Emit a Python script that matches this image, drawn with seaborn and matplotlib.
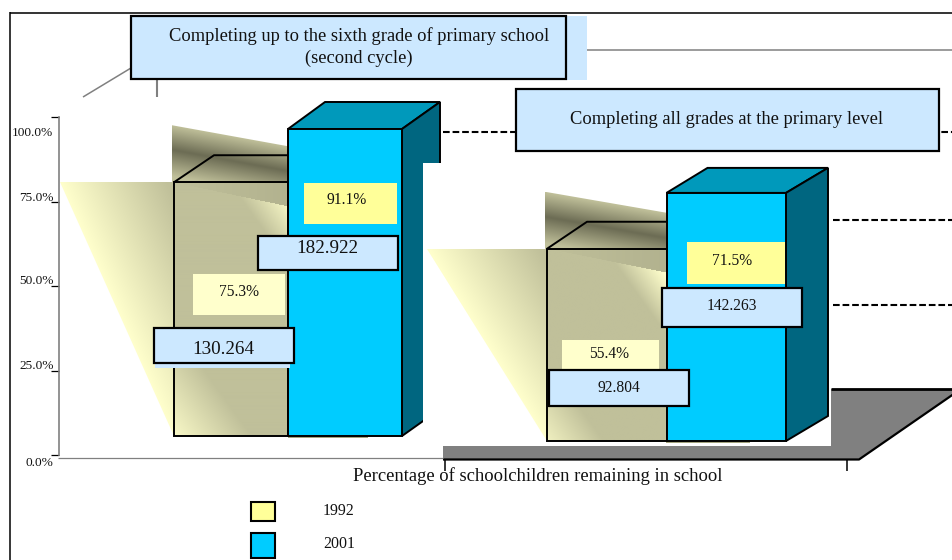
import numpy as np
import pandas as pd
import matplotlib
matplotlib.use("Agg")
import matplotlib.pyplot as plt
from matplotlib.patches import Polygon, Rectangle
from matplotlib.transforms import ScaledTranslation
import seaborn as sns

# ---- data ----
years = ["1992", "2001"]
cycle_pct = [75.3, 91.1]
primary_pct = [55.4, 71.5]
cycle_students = ["130.264", "182.922"]
primary_students = ["92.804", "142.263"]
axis_ticks = [0, 25, 50, 75, 100]
axis_labels = ["0.0%", "25.0%", "50.0%", "75.0%", "100.0%"]
title_cycle = "Completing up to the sixth grade of primary school\n(second cycle)"
title_primary = "Completing all grades at the primary level"
x_title = "Percentage of schoolchildren remaining in school"

# ---- style ----
sns.set_theme(style="white")
plt.rcParams["font.family"] = ["Liberation Serif", "DejaVu Serif"]
W, H = 953, 560
BOX = "#cce8ff"
Y_STRONG = "#ffff99"
Y_PALE = "#ffffcc"
BLUE = "#00ccff"
BLUE_TOP = "#0099bb"
BLUE_SIDE = "#006680"
KHAKI = np.array([0xc0, 0xc0, 0x9a]) / 255
CREAM = np.array([0xff, 0xff, 0xcc]) / 255
DARK = np.array([0x6c, 0x6c, 0x54]) / 255
EDGE_LW = 1.4

fig = plt.figure(figsize=(W / 100, H / 100), dpi=100, facecolor="white")


def px_axes(x0, y0, x1, y1, z):
    ax = fig.add_axes([x0 / W, 1 - y1 / H, (x1 - x0) / W, (y1 - y0) / H], zorder=z)
    ax.patch.set_alpha(0)
    return ax


bg = px_axes(0, 0, W, H, 0)
bg.set_xlim(0, W)
bg.set_ylim(H, 0)
bg.axis("off")
top = px_axes(0, 0, W, H, 5)
top.set_xlim(0, W)
top.set_ylim(H, 0)
top.axis("off")


def line(ax, xs, ys, color="black", lw=1.1, **kw):
    ax.plot(xs, ys, color=color, lw=lw, solid_capstyle="butt", **kw)


def grad_poly(ax, pts, fn, z):
    pts = np.array(pts, float)
    x0, y0 = pts.min(0)
    x1, y1 = pts.max(0)
    xs = np.arange(x0, x1 + 1)
    ys = np.arange(y0, y1 + 1)
    X, Y = np.meshgrid(xs, ys)
    rgb = fn(X, Y)
    im = ax.imshow(rgb, extent=(x0, x1, y1, y0), aspect="auto", origin="upper",
                   zorder=z, interpolation="bilinear")
    im.set_clip_path(Polygon(pts, closed=True, transform=ax.transData))
    ax.set_xlim(0, W)
    ax.set_ylim(H, 0)


def mix(a, b, t):
    return a + (b - a) * np.clip(t, 0, 1)[..., None]


# ---- back-wall remains, frame, floor ----
line(bg, [10, 953], [12.5, 12.5], color="#333333", lw=1.4)
line(bg, [10.5, 10.5], [12, 560], color="black", lw=1.1)
line(bg, [587, 953], [49.5, 49.5], color="#808080", lw=1.1)
line(bg, [131, 83], [68, 97], color="#808080", lw=1.1)
line(bg, [157.5, 157.5], [79, 97], color="#808080", lw=1.5)
bg.add_patch(Polygon([(443, 389), (953, 389), (953, 394), (859, 459), (443, 459)], fc="#808080", ec="none", zorder=1))
line(bg, [831, 953], [389, 389], lw=2, zorder=1.5)
line(bg, [953, 859, 443], [394.5, 459.5, 459.5], lw=1.6, zorder=1.5)
line(bg, [58, 443], [458, 458], color="#808080", lw=0.9)
for tx in (445, 847):
    line(bg, [tx, tx], [460, 471], lw=1.1)
for dy in (132, 220, 305):
    x_from = 443 if dy == 132 else 833
    bg.plot([x_from, 953], [dy, dy], color="black", lw=1.5, ls=(0, (3.2, 1.4)), zorder=0.5)


def group(x0, x1, base, scale, values):
    """Draw one pair of bars; heights come from the values through the axes scale."""
    ax = px_axes(x0, base - scale * 100, x1, base, 3)
    frame = pd.DataFrame({"year": years, "pct": values})
    sns.barplot(data=frame, x="year", y="pct", hue="year", palette=[Y_STRONG, BLUE], dodge=False,
                width=1.0, legend=False, ax=ax, edgecolor="black", linewidth=EDGE_LW, saturation=1)
    ax.set_xlim(-0.5, 1.5)
    ax.set_ylim(0, 100)
    ax.axis("off")
    for p in ax.patches:
        p.set_clip_on(False)
    return ax


def decorate(ax, x0, x1, base, scale, values, z_back):
    mid = (x0 + x1) / 2
    y_old = base - scale * values[0]
    h = base - y_old
    # yellow cast on the left
    span = mid - x0
    tri_left = x0 - span

    def tri_fn(X, Y):
        xh = tri_left + (Y - y_old) / h * span
        t = (X - xh) / span
        return mix(CREAM, KHAKI, t * 1.05)

    grad_poly(bg, [(tri_left, y_old), (x0, y_old), (x0, base)], tri_fn, z_back)

    # band behind the top
    slope = 21 / (mid - x0)

    def band_fn(X, Y):
        u = Y - (y_old - 57) - slope * (X - x0)
        rgb = np.where((u < 25)[..., None], mix(KHAKI, DARK, u / 25), mix(DARK, KHAKI, (u - 25) / 27))
        return rgb

    grad_poly(bg, [(x0 - 2, y_old - 57), (mid, y_old - 36), (mid, y_old + 24), (x0 - 2, y_old)], band_fn, z_back)
    # top face outline of the 1992 bar
    line(bg, [x0, x0 + 40, mid], [y_old, y_old - 27, y_old - 27], lw=EDGE_LW, zorder=z_back + 0.1)
    # shadow under the 2001 bar
    bg.add_patch(Rectangle((mid, base - 1), (x1 - mid) * 0.7, 3, fc="#a3a37f", ec="none", zorder=z_back))

    # front face of the 1992 bar: gradient clipped to the library's bar
    bar = ax.patches[0]
    bx, bw, bh = bar.get_x(), bar.get_width(), bar.get_height()
    xs = np.arange(x0, mid + 1)
    ys = np.arange(y_old, base + 1)
    X, Y = np.meshgrid(xs, ys)
    f = (253 / h) ** 0.5
    d = ((X - x0 - 6) * 125 - (Y - (base - h * 0.557)) * 90) / 154 * f
    t = np.interp(d, [-95, -25, 105, 145], [0, 1, 1, 0])
    rgb = mix(CREAM, KHAKI, t)
    band_low = Y - (y_old + slope * 1.14 * (X - x0))
    dark_zone = np.clip((X - x0) / (mid - x0), 0, 1)
    edge = mix(KHAKI, KHAKI * 0.88, dark_zone * 0.6)
    rgb = np.where((band_low < 0)[..., None], edge, rgb)
    im = ax.imshow(rgb, extent=(bx, bx + bw, 0, bh), aspect="auto", origin="upper", zorder=1)
    im.set_clip_path(bar)
    bar.set_facecolor("none")
    bar.set_zorder(2)
    ax.patches[1].set_zorder(3)
    ax.set_xlim(-0.5, 1.5)
    ax.set_ylim(0, 100)


def blue_faces(x0, x1, base, scale, value, depth, z):
    mid = (x0 + x1) / 2
    y_new = base - scale * value
    dx, dy = depth
    bg.add_patch(Polygon([(mid, y_new), (mid + dx - 1, y_new - dy), (x1 + dx, y_new - dy), (x1, y_new)],
                         fc=BLUE_TOP, ec="black", lw=EDGE_LW, zorder=z))
    bg.add_patch(Polygon([(x1, y_new), (x1 + dx, y_new - dy), (x1 + dx, base - dy), (x1, base)],
                         fc=BLUE_SIDE, ec="black", lw=EDGE_LW, zorder=z))


# left group
L = (174, 402, 436, 3.37)
R = (547, 786, 441, 3.47)
ax_l = group(L[0], L[1], L[2], L[3], cycle_pct)
blue_faces(L[0], L[1], L[2], L[3], cycle_pct[1], (38, 27), 2)
decorate(ax_l, L[0], L[1], L[2], L[3], cycle_pct, 2)
# white panel of the right group hides what lies behind it
bg.add_patch(Rectangle((423, 163), 408, 283, fc="white", ec="none", zorder=2.5))
ax_r = group(R[0], R[1], R[2], R[3], primary_pct)
blue_faces(R[0], R[1], R[2], R[3], primary_pct[1], (42, 25), 3)
decorate(ax_r, R[0], R[1], R[2], R[3], primary_pct, 3)

# ---- value axis ----
ay = px_axes(59, 117, 60, 455, 4)
ay.set_ylim(0, 100)
ay.set_xticks([])
ay.set_yticks(axis_ticks)
ay.set_yticklabels(axis_labels, fontsize=9.6, color="#111111")
ay.tick_params(axis="y", left=True, length=6, width=0.9, color="black", pad=-2)
for name, sp in ay.spines.items():
    sp.set_visible(name == "left")
ay.spines["left"].set_color("#808080")
ay.spines["left"].set_linewidth(1.2)
label_shift = [-6, 6, 7, 5, -15]
for lab, s in zip(ay.get_yticklabels(), label_shift):
    lab.set_transform(lab.get_transform() + ScaledTranslation(0, s / 100, fig.dpi_scale_trans))


# ---- annotations ----
def box(x0, y0, x1, y1, fc=BOX, ec="black", lw=1.6):
    top.add_patch(Rectangle((x0, y0), x1 - x0, y1 - y0, fc=fc, ec=ec, lw=lw, zorder=2))


def label(x, y, s, size, spacing=1.15):
    top.text(x, y, s, ha="center", va="center", fontsize=size, color="#111111", zorder=3, linespacing=spacing)


# callouts
top.add_patch(Rectangle((131, 16), 456, 64, fc=BOX, ec="none", zorder=1))
box(131, 16, 566, 79)
label(359, 47.5, title_cycle, 13.3, 1.35)
box(516, 89, 939, 151)
label(727, 119, title_primary, 13.3)

# pct boxes
for (x0, y0, x1, y1, fc), val, cx, cy in [
    ((193, 274, 285, 315, Y_PALE), cycle_pct[0], 239, 292),
    ((304, 183, 397, 224, Y_STRONG), cycle_pct[1], 347, 200),
    ((562, 340, 659, 369, Y_PALE), primary_pct[0], 609, 354),
    ((687, 242, 785, 284, Y_STRONG), primary_pct[1], 732, 261),
]:
    top.add_patch(Rectangle((x0, y0), x1 - x0, y1 - y0, fc=fc, ec="none", zorder=1))
    label(cx, cy, f"{val:.1f}%", 11.2)

# student boxes
top.add_patch(Rectangle((155, 333), 135, 35, fc=BOX, ec="none", zorder=1))
box(154.5, 327.5, 294, 363)
label(223, 350, cycle_students[0], 13.8)
box(258.5, 235.5, 398, 270)
label(327, 248.5, cycle_students[1], 13.8)
box(549.5, 370, 689, 406)
label(619, 388, primary_students[0], 11.2)
box(662.5, 288, 802, 327)
label(732, 306, primary_students[1], 11.2)

# axis title
top.text(538, 476, x_title, ha="center", va="center", fontsize=13.4, color="#111111")

# legend
for (y0, y1, color), name, ty in zip([(502, 521, Y_STRONG), (533, 558, BLUE)], years, (511, 544)):
    top.add_patch(Rectangle((251.5, y0), 23.5, y1 - y0, fc=color, ec="black", lw=1.5, zorder=2))
    top.text(323, ty, name, ha="left", va="center", fontsize=11.4, color="#111111")

fig.savefig("out.png", dpi=100, facecolor="white")
